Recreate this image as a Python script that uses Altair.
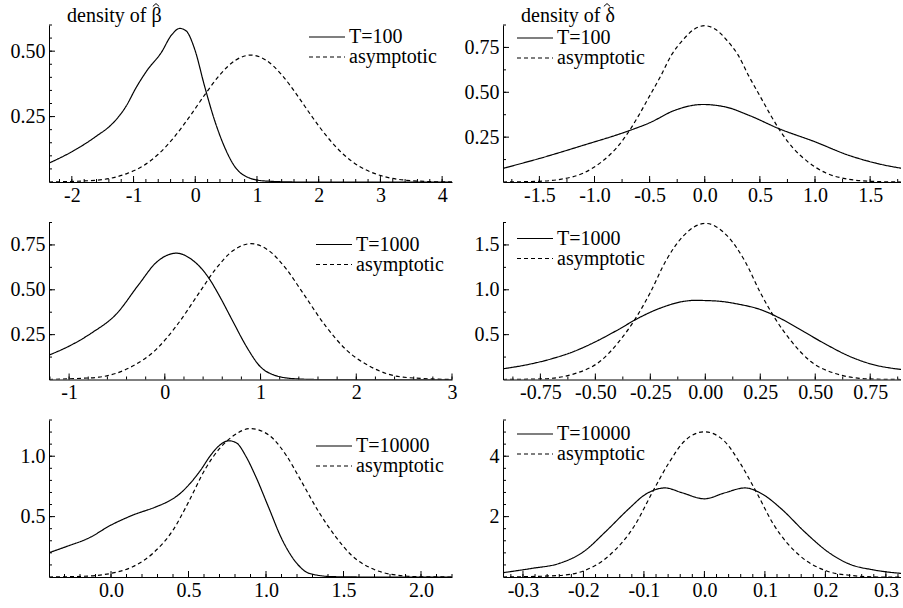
import altair as alt
import pandas as pd

FONT = "Liberation Serif, Times New Roman, serif"
FS = 20

# ---------------- data ----------------
# Panel 1: density of beta-hat, T=100
p1_sol_x = [-2.37, -1.99, -1.61, -1.33, -1.12, -0.96, -0.77, -0.55, -0.39, -0.25, -0.15, -0.01, 0.15, 0.31, 0.47, 0.64, 0.85, 1.12, 1.66, 4.16]
p1_sol_y = [0.072, 0.117, 0.174, 0.226, 0.29, 0.36, 0.43, 0.495, 0.56, 0.587, 0.578, 0.508, 0.367, 0.238, 0.136, 0.059, 0.018, 0.004, 0.0, 0.0]
p1_asy_x = [-2.37, -1.6, -1.1, -0.85, -0.6, -0.35, -0.1, 0.15, 0.4, 0.65, 0.9, 1.15, 1.4, 1.65, 1.9, 2.15, 2.4, 2.65, 2.9, 3.4, 3.9, 4.16]
p1_asy_y = [0.0, 0.007, 0.033, 0.061, 0.106, 0.169, 0.247, 0.332, 0.41, 0.465, 0.485, 0.465, 0.41, 0.332, 0.247, 0.169, 0.106, 0.061, 0.033, 0.007, 0.001, 0.0]

# Panel 2: density of delta-hat, T=100
p2_sol_x = [-1.83, -1.5, -1.1, -0.7, -0.5, -0.27, -0.02, 0.19, 0.4, 0.67, 1.0, 1.3, 1.6, 1.79]
p2_sol_y = [0.076, 0.131, 0.205, 0.283, 0.33, 0.40, 0.432, 0.418, 0.372, 0.298, 0.224, 0.15, 0.098, 0.076]
p2_asy_x = [-1.83, -1.5, -1.3, -1.1, -0.93, -0.8, -0.69, -0.6, -0.5, -0.4, -0.3, -0.2, -0.1, 0.0,
            0.1, 0.2, 0.3, 0.4, 0.5, 0.6, 0.69, 0.8, 0.93, 1.1, 1.3, 1.5, 1.79]
p2_asy_y = [0.0, 0.004, 0.016, 0.05, 0.115, 0.19, 0.28, 0.37, 0.48, 0.59, 0.71, 0.79, 0.85, 0.871,
            0.85, 0.79, 0.71, 0.59, 0.48, 0.37, 0.28, 0.19, 0.115, 0.05, 0.016, 0.004, 0.0]

# Panel 3: density of beta-hat, T=1000
p3_sol_x = [-1.21, -1.0, -0.76, -0.51, -0.27, -0.09, 0.12, 0.29, 0.38, 0.46, 0.57, 0.71, 0.85, 1.0, 1.13, 1.34, 1.6, 3.0]
p3_sol_y = [0.136, 0.186, 0.261, 0.363, 0.531, 0.652, 0.704, 0.665, 0.62, 0.565, 0.466, 0.325, 0.186, 0.07, 0.027, 0.005, 0.0, 0.0]
p3_asy_x = [-1.21, -1.0, -0.69, -0.34, -0.09, 0.12, 0.36, 0.53, 0.71, 0.9, 1.09, 1.27, 1.44, 1.68, 1.89, 2.14, 2.49, 3.0]
p3_asy_y = [0.0, 0.004, 0.013, 0.074, 0.168, 0.298, 0.484, 0.615, 0.717, 0.757, 0.717, 0.615, 0.484, 0.298, 0.168, 0.074, 0.013, 0.0]

# Panel 4: density of delta-hat, T=1000
p4_sol_x = [-0.92, -0.8, -0.7, -0.6, -0.5, -0.4, -0.3, -0.2, -0.1, -0.05, 0.05, 0.15, 0.25, 0.35, 0.45, 0.55, 0.65, 0.75, 0.89]
p4_sol_y = [0.119, 0.17, 0.23, 0.31, 0.42, 0.55, 0.69, 0.80, 0.87, 0.882, 0.875, 0.84, 0.78, 0.67, 0.53, 0.39, 0.265, 0.175, 0.112]
p4_asy_x = [-0.92, -0.74, -0.59, -0.48, -0.39, -0.32, -0.25, -0.18, -0.1, 0.0, 0.1, 0.18, 0.25, 0.32, 0.39, 0.48, 0.59, 0.74, 0.89]
p4_asy_y = [0.0, 0.007, 0.068, 0.2, 0.43, 0.67, 0.97, 1.32, 1.6, 1.74, 1.6, 1.32, 0.97, 0.67, 0.43, 0.2, 0.068, 0.007, 0.0]

# Panel 5: density of beta-hat, T=10000
p5_sol_x = [-0.4, -0.29, -0.14, 0.0, 0.14, 0.29, 0.375, 0.44, 0.5, 0.57, 0.65, 0.7, 0.76, 0.81, 0.87, 0.93, 1.02, 1.1, 1.19, 1.28, 1.43, 1.64, 2.2]
p5_sol_y = [0.201, 0.251, 0.325, 0.43, 0.512, 0.581, 0.63, 0.685, 0.76, 0.87, 1.02, 1.09, 1.128, 1.11, 1.0, 0.843, 0.567, 0.32, 0.127, 0.03, 0.003, 0.0, 0.0]
p5_asy_x = [-0.4, -0.18, 0.0, 0.14, 0.27, 0.4, 0.5, 0.61, 0.7, 0.78, 0.9, 1.02, 1.13, 1.23, 1.34, 1.45, 1.55, 1.68, 1.81, 2.0, 2.2]
p5_asy_y = [0.0, 0.006, 0.03, 0.085, 0.196, 0.388, 0.62, 0.898, 1.063, 1.16, 1.229, 1.174, 1.008, 0.788, 0.54, 0.333, 0.182, 0.072, 0.022, 0.002, 0.0]

# Panel 6: density of delta-hat, T=10000
p6_sol_x = [-0.333, -0.285, -0.24, -0.2, -0.164, -0.125, -0.098, -0.065, -0.037, 0.0, 0.034, 0.067, 0.097, 0.127, 0.166, 0.204, 0.237, 0.281, 0.325]
p6_sol_y = [0.143, 0.286, 0.45, 0.835, 1.49, 2.26, 2.73, 2.95, 2.79, 2.59, 2.79, 2.95, 2.73, 2.26, 1.49, 0.835, 0.45, 0.23, 0.12]
p6_asy_x = [-0.333, -0.24, -0.2, -0.158, -0.114, -0.087, -0.059, -0.032, 0.0, 0.032, 0.059, 0.087, 0.114, 0.158, 0.202, 0.243, 0.29, 0.325]
p6_asy_y = [0.0, 0.05, 0.2, 0.7, 1.75, 2.77, 3.77, 4.52, 4.81, 4.52, 3.77, 2.77, 1.75, 0.7, 0.2, 0.05, 0.0, 0.0]

# tick label values
p1_xmaj = [-2, -1, 0, 1, 2, 3, 4]
p1_ymaj = [0.25, 0.5]
p2_xmaj = [-1.5, -1.0, -0.5, 0.0, 0.5, 1.0, 1.5]
p2_ymaj = [0.25, 0.5, 0.75]
p3_xmaj = [-1, 0, 1, 2, 3]
p3_ymaj = [0.25, 0.5, 0.75]
p4_xmaj = [-0.75, -0.5, -0.25, 0.0, 0.25, 0.5, 0.75]
p4_ymaj = [0.5, 1.0, 1.5]
p5_xmaj = [0.0, 0.5, 1.0, 1.5, 2.0]
p5_ymaj = [0.5, 1.0]
p6_xmaj = [-0.3, -0.2, -0.1, 0.0, 0.1, 0.2, 0.3]
p6_ymaj = [2, 4]

series_labels = ["T=100", "T=1000", "T=10000"]
asym_label = "asymptotic"
title_texts = ["density of \u03b2", "density of \u03b4"]

# circumflex (hat) drawn as a small chevron symbol above the Greek letter
HAT_SHAPE = "M-1,0.45L0,-0.45L1,0.45"


def minor(start, step, n):
    return [round(start + i * step, 6) for i in range(n)]


MINUS_FIX = "replace(datum.label, '\u2212', '-')"


def panel(sx, sy, ax, ay, tlabel, xdom, ydom, xmaj, xmin, ymaj, ymin, xfmt, yfmt,
          w, h, leg_x, leg_y, title=None, hat_x=107):
    xs = alt.Scale(domain=xdom, nice=False, zero=False)
    ys = alt.Scale(domain=ydom, nice=False, zero=False)
    xax = alt.Axis(values=xmaj, format=xfmt, labelExpr=MINUS_FIX, ticks=False, grid=False,
                   domainColor="black", domainWidth=1, labelFont=FONT, labelFontSize=FS,
                   labelColor="black", labelPadding=3, title=None, labelFlush=False,
                   labelOverlap=False)
    yax = alt.Axis(values=ymaj, format=yfmt, labelExpr=MINUS_FIX, ticks=False, grid=False,
                   domainColor="black", domainWidth=1, labelFont=FONT, labelFontSize=FS,
                   labelColor="black", labelPadding=4, title=None, labelFlush=False,
                   labelOverlap=False)
    X = alt.X("x:Q", scale=xs, axis=xax)
    Y = alt.Y("y:Q", scale=ys, axis=yax)

    layers = []
    for xx, yy, lab, dash in ((sx, sy, tlabel, [1, 0]), (ax, ay, asym_label, [4, 3])):
        d = pd.DataFrame({"x": xx, "y": yy, "series": [lab] * len(xx)})
        layers.append(alt.Chart(d).mark_line(color="black", strokeWidth=1.2, clip=True,
                                             strokeDash=dash, interpolate="monotone").encode(x=X, y=Y))
    for vals, ln in ((xmaj, 6), (xmin, 3)):
        layers.append(
            alt.Chart(pd.DataFrame({"x": vals})).mark_rule(color="black", strokeWidth=1).encode(
                x=X, y=alt.value(h), y2=alt.value(h - ln)))
    for vals, ln in ((ymaj, 6), (ymin, 3)):
        layers.append(
            alt.Chart(pd.DataFrame({"y": vals})).mark_rule(color="black", strokeWidth=1).encode(
                y=Y, x=alt.value(0), x2=alt.value(ln)))
    # legend drawn in pixel space inside the plot
    for i, (lab, dash) in enumerate(((tlabel, [1, 0]), (asym_label, [4, 3]))):
        yy = leg_y + i * 20
        d = pd.DataFrame({"label": [lab]})
        layers.append(alt.Chart(d).mark_rule(color="black", strokeWidth=1.2, strokeDash=dash).encode(
            x=alt.value(leg_x), x2=alt.value(leg_x + 36), y=alt.value(yy)))
        layers.append(alt.Chart(d).mark_text(font=FONT, fontSize=FS, align="left",
                                             baseline="middle", color="black").encode(
            x=alt.value(leg_x + 40), y=alt.value(yy), text="label:N"))
    if title:
        d = pd.DataFrame({"label": [title]})
        layers.append(alt.Chart(d).mark_text(font=FONT, fontSize=FS, align="left",
                                             baseline="alphabetic", color="black").encode(
            x=alt.value(18), y=alt.value(-3), text="label:N"))
        layers.append(alt.Chart(d).mark_point(shape=HAT_SHAPE, filled=False, size=40,
                                              color="black", strokeWidth=1, opacity=1).encode(
            x=alt.value(hat_x), y=alt.value(-20)))
    return alt.layer(*layers).properties(width=w, height=h)


WL, WR, H = 403, 398, 157

c1 = panel(p1_sol_x, p1_sol_y, p1_asy_x, p1_asy_y, series_labels[0], [-2.37, 4.16], [0, 0.6],
           p1_xmaj, minor(-2.2, 0.2, 32), p1_ymaj, minor(0.05, 0.05, 12), "d", ".2f",
           WL, H, 260, 12, title_texts[0], 107)
c2 = panel(p2_sol_x, p2_sol_y, p2_asy_x, p2_asy_y, series_labels[0], [-1.83, 1.78], [0, 0.875],
           p2_xmaj, minor(-1.75, 0.25, 15), p2_ymaj, minor(0.125, 0.125, 7), ".1f", ".2f",
           WR, H, 14, 13, title_texts[1], 104)
c3 = panel(p3_sol_x, p3_sol_y, p3_asy_x, p3_asy_y, series_labels[1], [-1.21, 3.0], [0, 0.875],
           p3_xmaj, minor(-1.2, 0.2, 22), p3_ymaj, minor(0.125, 0.125, 7), "d", ".2f",
           WL, H, 267, 22)
c4 = panel(p4_sol_x, p4_sol_y, p4_asy_x, p4_asy_y, series_labels[1], [-0.92, 0.89], [0, 1.75],
           p4_xmaj, minor(-0.875, 0.125, 15), p4_ymaj, minor(0.25, 0.25, 7), ".2f", ".1f",
           WR, H, 14, 16)
c5 = panel(p5_sol_x, p5_sol_y, p5_asy_x, p5_asy_y, series_labels[2], [-0.4, 2.2], [0, 1.3],
           p5_xmaj, minor(-0.3, 0.1, 26), p5_ymaj, minor(0.1, 0.1, 13), ".1f", ".1f",
           WL, H, 267, 26)
c6 = panel(p6_sol_x, p6_sol_y, p6_asy_x, p6_asy_y, series_labels[2], [-0.333, 0.325], [0, 5.2],
           p6_xmaj, minor(-0.32, 0.02, 33), p6_ymaj, minor(0.4, 0.4, 13), ".1f", "d",
           WR, H, 14, 14)

chart = alt.concat(c1, c2, c3, c4, c5, c6, columns=2,
                   spacing={"row": 40.5, "column": 51}, bounds="flush").properties(
    padding={"left": 10, "top": 1, "right": 0, "bottom": 0},
    background="white",
).configure_view(stroke=None)

chart.save("out.html", embed_options={"renderer": "svg", "actions": False})
